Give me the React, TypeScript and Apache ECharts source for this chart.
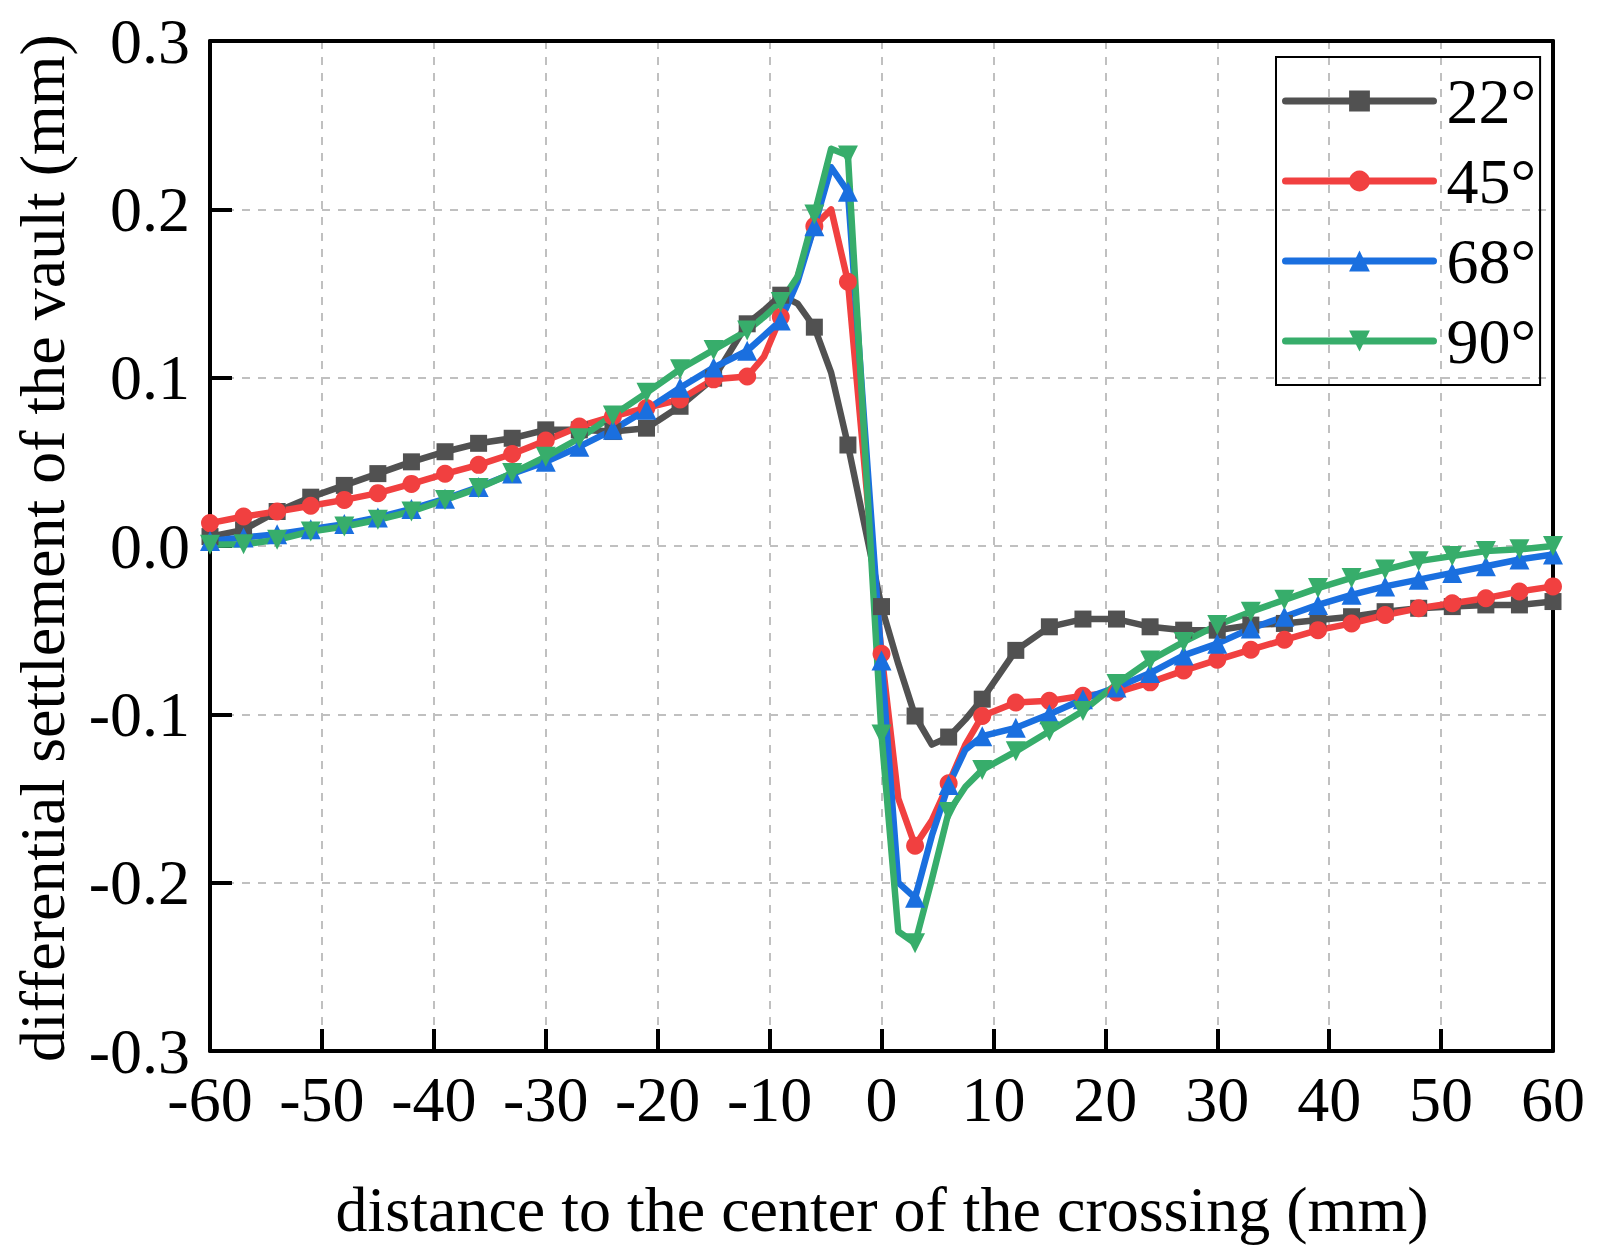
import React, { useEffect, useRef } from "react";
import * as echarts from "echarts";

const xValues = [
  -60, -57, -54, -51, -48, -45, -42, -39, -36, -33, -30, -27, -24, -21, -18, -15, -12,
  -10.5, -9, -7.5, -6, -4.5, -3, -1.5, 0, 1.5, 3, 4.5, 6, 7.5, 9,
  12, 15, 18, 21, 24, 27, 30, 33, 36, 39, 42, 45, 48, 51, 54, 57, 60,
];

const s22 = [
  0.0056, 0.0096, 0.0205, 0.029, 0.036, 0.043, 0.05, 0.056, 0.061, 0.064, 0.069, 0.069, 0.068, 0.07, 0.083, 0.0997, 0.132,
  0.14, 0.149, 0.144, 0.13, 0.103, 0.06, 0.012, -0.036, -0.07, -0.101, -0.118, -0.1135, -0.103, -0.091,
  -0.062, -0.048, -0.0434, -0.0434, -0.048, -0.05, -0.05, -0.047, -0.046, -0.044, -0.042, -0.039, -0.037, -0.036, -0.035, -0.035, -0.033,
];
const s45 = [
  0.0136, 0.0175, 0.0205, 0.0239, 0.0274, 0.0314, 0.0369, 0.0429, 0.0482, 0.0547, 0.0626, 0.071, 0.077, 0.082, 0.087, 0.099, 0.1007,
  0.1125, 0.136, 0.16, 0.19, 0.2, 0.157, 0.046, -0.064, -0.15, -0.178, -0.163, -0.141, -0.118, -0.101,
  -0.093, -0.092, -0.089, -0.087, -0.081, -0.074, -0.0676, -0.0616, -0.0557, -0.05, -0.046, -0.041, -0.037, -0.034, -0.031, -0.027, -0.024,
];
const s68 = [
  0.003, 0.005, 0.007, 0.01, 0.013, 0.017, 0.022, 0.028, 0.035, 0.043, 0.05, 0.059, 0.069, 0.081, 0.094, 0.106, 0.116,
  0.125, 0.134, 0.157, 0.19, 0.225, 0.2105, 0.07, -0.068, -0.2, -0.209, -0.172, -0.142, -0.121, -0.113,
  -0.108, -0.1, -0.091, -0.084, -0.0755, -0.065, -0.058, -0.049, -0.042, -0.035, -0.029, -0.024, -0.02, -0.016, -0.012, -0.008, -0.005,
];
const s90 = [
  0.0007, 0.001, 0.0037, 0.0086, 0.0116, 0.0156, 0.0205, 0.0274, 0.0344, 0.0433, 0.053, 0.064, 0.0775, 0.091, 0.105, 0.1165, 0.128,
  0.136, 0.145, 0.16, 0.197, 0.236, 0.232, 0.06, -0.112, -0.229, -0.236, -0.198, -0.158, -0.143, -0.133,
  -0.122, -0.11, -0.098, -0.082, -0.068, -0.057, -0.047, -0.039, -0.032, -0.025, -0.019, -0.014, -0.009, -0.006, -0.003, -0.002, 0.0,
];

const seriesNames = ["22°", "45°", "68°", "90°"];
const xTitle = "distance to the center of the crossing (mm)";
const yTitle = "differential settlement of the vault (mm)";

const FONT = "'Liberation Serif', 'Times New Roman', serif";

export default function App() {
  const ref = useRef<HTMLDivElement>(null);
  useEffect(() => {
    document.body.style.margin = "0";
    if (!ref.current) return;
    const chart = echarts.init(ref.current, undefined, { renderer: "svg" });
    const build = (vals: number[]) =>
      xValues.map((x, i) =>
        x % 3 === 0 ? { value: [x, vals[i]] } : { value: [x, vals[i]], symbol: "none" }
      );
    const defs = [
      { name: seriesNames[0], vals: s22, color: "#515151", symbol: "rect", size: 17, rot: 0 },
      { name: seriesNames[1], vals: s45, color: "#F14040", symbol: "circle", size: 18, rot: 0 },
      { name: seriesNames[2], vals: s68, color: "#1A6FDF", symbol: "triangle", size: 20, rot: 0 },
      { name: seriesNames[3], vals: s90, color: "#37AD6B", symbol: "triangle", size: 20, rot: 180 },
    ];
    const split = {
      show: true,
      showMinLine: false,
      showMaxLine: false,
      lineStyle: { color: "#c0c0c0", width: 2, type: [8, 8] },
    };
    const frameAxis = {
      axisLine: { show: true, onZero: false, lineStyle: { color: "#000", width: 4 } },
      axisTick: { show: false },
      axisLabel: { show: false },
      splitLine: { show: false },
    };
    chart.setOption({
      animation: false,
      backgroundColor: "#fff",
      grid: { left: 210, right: 47, top: 41, bottom: 204 },
      xAxis: [
        {
          type: "value",
          min: -60,
          max: 60,
          interval: 10,
          axisLine: { show: true, onZero: false, lineStyle: { color: "#000", width: 4 } },
          axisTick: { show: true, inside: true, length: 22, lineStyle: { color: "#000", width: 4 } },
          axisLabel: { color: "#000", fontFamily: FONT, fontSize: 64, margin: 16 },
          splitLine: split,
        },
        { type: "value", min: -60, max: 60, interval: 10, position: "top", ...frameAxis },
      ],
      yAxis: [
        {
          type: "value",
          min: -0.3,
          max: 0.3,
          interval: 0.1,
          axisLine: { show: true, onZero: false, lineStyle: { color: "#000", width: 4 } },
          axisTick: { show: true, inside: true, length: 22, lineStyle: { color: "#000", width: 4 } },
          axisLabel: {
            color: "#000",
            fontFamily: FONT,
            fontSize: 64,
            margin: 20,
            formatter: (v: number) => v.toFixed(1),
          },
          splitLine: split,
        },
        { type: "value", min: -0.3, max: 0.3, interval: 0.1, position: "right", ...frameAxis },
      ],
      legend: {
        orient: "vertical",
        left: 1276,
        top: 57,
        itemWidth: 148,
        itemHeight: 26,
        itemGap: 16,
        padding: [12, 4, 12, 6],
        borderColor: "#000",
        borderWidth: 2,
        lineStyle: { width: 7, cap: "round" },
        textStyle: { fontFamily: FONT, fontSize: 64, color: "#000", padding: [0, 0, 0, 8] },
        data: seriesNames,
      },
      graphic: [
        {
          type: "text",
          x: 882,
          y: 1209,
          style: {
            text: xTitle,
            fontFamily: FONT,
            fontSize: 64,
            fill: "#000",
            align: "center",
            verticalAlign: "middle",
          },
        },
        {
          type: "text",
          x: 42,
          y: 548,
          rotation: Math.PI / 2,
          style: {
            text: yTitle,
            fontFamily: FONT,
            fontSize: 64,
            fill: "#000",
            align: "center",
            verticalAlign: "middle",
          },
        },
      ],
      series: defs.map((d) => ({
        type: "line",
        name: d.name,
        data: build(d.vals),
        symbol: d.symbol,
        symbolSize: d.size,
        symbolRotate: d.rot,
        showAllSymbol: true,
        color: d.color,
        itemStyle: { color: d.color },
        lineStyle: { color: d.color, width: 6.5, cap: "round", join: "round" },
      })),
    });
    return () => chart.dispose();
  }, []);
  return <div ref={ref} style={{ width: 1600, height: 1255 }} />;
}
